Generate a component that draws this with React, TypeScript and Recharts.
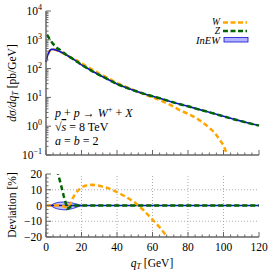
import React from "react";
import { ComposedChart, Line, Area, XAxis, YAxis, ReferenceLine } from "recharts";

// q_T grid [GeV]
const qT = [0, 0.5, 1, 2, 3, 4, 5, 6, 7, 8, 9, 10, 11, 12, 13, 14, 15, 16, 18, 20, 22, 24, 26, 28, 30, 35, 40, 45, 50, 55, 60, 65, 70, 75, 80, 85, 90, 95, 100, 103, 105, 110, 115, 120];

// d sigma / d qT [pb/GeV]
const inew = [170, 235, 300, 410, 465, 470, 455, 430, 405, 385, 360, 335, 310, 285, 262, 240, 220, 200, 165, 135, 115, 97, 82, 70, 60, 42, 29, 22, 17, 13.5, 11, 9, 7.2, 5.9, 4.9, 4.0, 3.3, 2.7, 2.2, 1.95, 1.8, 1.5, 1.25, 1.05];
const wCurve = [170, 235, 300, 410, 465, 470, 455, 430, 405, 384, 359, 333, 307, 281, 261, 245, 230, 213, 181, 151, 129, 110, 93, 79, 67.5, 46.6, 31.5, 23.2, 17.3, 13.1, 10, 7.65, 5.5, 3.7, 2.7, 1.86, 1.12, 0.6, 0.22, 0.07, null, null, null, null];
const zCurve = [null, 1500, 1350, 1080, 870, 720, 610, 533, 482, 443, 398, 355, 316, 279, 258, 239, 220, 200, 165, 135, 115, 97, 82, 70, 60, 42, 29, 22, 17, 13.5, 11, 9, 7.2, 5.9, 4.9, 4.0, 3.3, 2.7, 2.2, 1.95, 1.8, 1.5, 1.25, 1.05];

// deviation [%]
const wDev = [0, 0, 0, 0, 0, 0, 0, 0, 0, -0.2, -0.3, -0.5, -1, -1.5, -0.5, 2, 4.5, 6.5, 9.5, 11.5, 12.5, 13, 13.2, 13, 12.5, 11, 8.5, 5.5, 2, -3, -9, -15, -23, null, null, null, null, null, null, null, null, null, null, null];
const zDev = [null, null, null, null, null, 53, 34, 24, 19, 15, 10.5, 6, 2, -2, -1.5, -0.5, 0, 0, 0, 0, 0, 0, 0, 0, 0, 0, 0, 0, 0, 0, 0, 0, 0, 0, 0, 0, 0, 0, 0, 0, 0, 0, 0, 0];
const bandLo = [null, null, null, null, -0.3, -1, -1.6, -2, -2.3, -2.5, -2.6, -2.7, -2.7, -2.6, -2.4, -2.2, -1.9, -1.6, -0.8, 0, null, null, null, null, null, null, null, null, null, null, null, null, null, null, null, null, null, null, null, null, null, null, null, null];
const bandHi = [null, null, null, null, 0.3, 0.9, 1.4, 1.8, 2, 2.1, 2.2, 2.2, 2.2, 2.1, 2, 1.8, 1.6, 1.3, 0.7, 0, null, null, null, null, null, null, null, null, null, null, null, null, null, null, null, null, null, null, null, null, null, null, null, null];

// ticks
const xMajor = [0, 20, 40, 60, 80, 100, 120];
const xMinor = [4, 8, 12, 16, 24, 28, 32, 36, 44, 48, 52, 56, 64, 68, 72, 76, 84, 88, 92, 96, 104, 108, 112, 116];
const logMajor = [0.1, 1, 10, 100, 1000, 10000];
const logExp = ["−1", "0", "1", "2", "3", "4"];
const logMinorMant = [2, 3, 4, 5, 6, 7, 8, 9];
const devMajor = [-20, -10, 0, 10, 20];
const devMinor = [-17.5, -15, -12.5, -7.5, -5, -2.5, 2.5, 5, 7.5, 12.5, 15, 17.5];
const devGrid = [-10, 10];
const xGrid = [20, 40, 60, 80, 100];

const topData = qT.map((q, i) => ({ q, inew: inew[i], w: wCurve[i], z: zCurve[i] }));
const botData = qT.map((q, i) => ({
  q,
  inew: 0,
  w: wDev[i],
  z: zDev[i],
  band: bandLo[i] == null ? null : [bandLo[i], bandHi[i]],
}));

const logMinor: number[] = [];
logMajor.slice(0, -1).forEach((m) => logMinorMant.forEach((k) => logMinor.push(m * k)));

const FONT = "'Liberation Serif', 'DejaVu Serif', serif";
const AXIS = "#666";
const ORANGE = "#ffa500";
const GREEN = "#006400";
const BLUE = "#1010d0";

const isMajor = (v: number, list: number[]) => list.some((m) => Math.abs(m - v) < 1e-9);

const makeTick = (side: "bottom" | "top" | "left" | "right", majors: number[], labels?: (v: number) => React.ReactNode) =>
  (props: any) => {
    const { x, y, payload } = props;
    const v = payload.value;
    const major = isMajor(v, majors);
    const len = major ? 5 : 2.5;
    let line;
    if (side === "bottom") line = <line x1={x} y1={y} x2={x} y2={y - len} stroke={AXIS} strokeWidth={1} />;
    else if (side === "top") line = <line x1={x} y1={y} x2={x} y2={y + len} stroke={AXIS} strokeWidth={1} />;
    else if (side === "left") line = <line x1={x} y1={y} x2={x + len} y2={y} stroke={AXIS} strokeWidth={1} />;
    else line = <line x1={x} y1={y} x2={x - len} y2={y} stroke={AXIS} strokeWidth={1} />;
    return (
      <g>
        {line}
        {major && labels && side === "bottom" && (
          <text x={x} y={y + 14} textAnchor="middle" fontFamily={FONT} fontSize={11.5} fill="#000">
            {labels(v)}
          </text>
        )}
        {major && labels && side === "left" && (
          <text x={x - 4} y={y + 4} textAnchor="end" fontFamily={FONT} fontSize={11.5} fill="#000">
            {labels(v)}
          </text>
        )}
      </g>
    );
  };

const logLabel = (v: number) => {
  const i = logMajor.findIndex((m) => Math.abs(m - v) / m < 1e-6);
  return (
    <>
      10<tspan dy={-5} fontSize={8}>{logExp[i]}</tspan>
    </>
  );
};
const devLabel = (v: number) => (v < 0 ? "−" + Math.abs(v) : String(v));

const axisLine = { stroke: AXIS, strokeWidth: 1.5 };

export default function App() {
  return (
    <div style={{ position: "absolute", left: 0, top: 0, width: 274, height: 274, background: "#fff" }}>
      <div style={{ position: "absolute", left: 0, top: 0 }}>
        <ComposedChart width={274} height={160} data={topData} margin={{ top: 11, right: 15, left: 0, bottom: 0 }}>
          <XAxis xAxisId="b" dataKey="q" type="number" domain={[0, 120]} ticks={[...xMajor, ...xMinor]} interval={0}
            height={5} tickSize={0} tickMargin={0} axisLine={axisLine} tickLine={false} tick={makeTick("bottom", xMajor)} />
          <XAxis xAxisId="t" orientation="top" dataKey="q" type="number" domain={[0, 120]} ticks={[...xMajor, ...xMinor]} interval={0}
            height={0} tickSize={0} tickMargin={0} axisLine={axisLine} tickLine={false} tick={makeTick("top", xMajor)} />
          <YAxis yAxisId="l" scale="log" type="number" domain={[0.1, 10000]} allowDataOverflow ticks={[...logMajor, ...logMinor]} interval={0}
            width={46} tickSize={0} tickMargin={0} axisLine={axisLine} tickLine={false} tick={makeTick("left", logMajor, logLabel)} />
          <YAxis yAxisId="r" orientation="right" scale="log" type="number" domain={[0.1, 10000]} allowDataOverflow ticks={[...logMajor, ...logMinor]} interval={0}
            width={0} tickSize={0} tickMargin={0} axisLine={axisLine} tickLine={false} tick={makeTick("right", logMajor)} />
          <Line xAxisId="b" yAxisId="l" dataKey="w" stroke={ORANGE} strokeWidth={2.5} strokeDasharray="5 3" dot={false} isAnimationActive={false} />
          <Line xAxisId="b" yAxisId="l" dataKey="inew" stroke={BLUE} strokeWidth={1.6} dot={false} isAnimationActive={false} />
          <Line xAxisId="b" yAxisId="l" dataKey="z" stroke={GREEN} strokeWidth={2.5} strokeDasharray="5 3" dot={false} isAnimationActive={false} />
        </ComposedChart>
      </div>
      <div style={{ position: "absolute", left: 0, top: 160 }}>
        <ComposedChart width={274} height={114} data={botData} margin={{ top: 14, right: 15, left: 0, bottom: 0 }}>
          <XAxis xAxisId="b" dataKey="q" type="number" domain={[0, 120]} ticks={[...xMajor, ...xMinor]} interval={0}
            height={37} tickSize={0} tickMargin={0} axisLine={axisLine} tickLine={false} tick={makeTick("bottom", xMajor, (v) => String(v))} />
          <XAxis xAxisId="t" orientation="top" dataKey="q" type="number" domain={[0, 120]} ticks={[...xMajor, ...xMinor]} interval={0}
            height={0} tickSize={0} tickMargin={0} axisLine={axisLine} tickLine={false} tick={makeTick("top", xMajor)} />
          <YAxis yAxisId="l" type="number" domain={[-20, 20]} allowDataOverflow ticks={[...devMajor, ...devMinor]} interval={0}
            width={46} tickSize={0} tickMargin={0} axisLine={axisLine} tickLine={false} tick={makeTick("left", devMajor, devLabel)} />
          <YAxis yAxisId="r" orientation="right" type="number" domain={[-20, 20]} allowDataOverflow ticks={[...devMajor, ...devMinor]} interval={0}
            width={0} tickSize={0} tickMargin={0} axisLine={axisLine} tickLine={false} tick={makeTick("right", devMajor)} />
          {xGrid.map((g) => (
            <ReferenceLine key={"x" + g} xAxisId="b" yAxisId="l" x={g} stroke="#999" strokeWidth={0.8} strokeDasharray="1 2" />
          ))}
          {devGrid.map((g) => (
            <ReferenceLine key={"y" + g} xAxisId="b" yAxisId="l" y={g} stroke="#999" strokeWidth={0.8} strokeDasharray="1 2" />
          ))}
          <Area xAxisId="b" yAxisId="l" dataKey="band" stroke={BLUE} strokeWidth={0.8} fill="#8080ff" fillOpacity={0.5} isAnimationActive={false} />
          <Line xAxisId="b" yAxisId="l" dataKey="inew" stroke={BLUE} strokeWidth={1.6} dot={false} isAnimationActive={false} />
          <Line xAxisId="b" yAxisId="l" dataKey="w" stroke={ORANGE} strokeWidth={2.5} strokeDasharray="5 3" dot={false} isAnimationActive={false} />
          <Line xAxisId="b" yAxisId="l" dataKey="z" stroke={GREEN} strokeWidth={2.5} strokeDasharray="5 3" dot={false} isAnimationActive={false} />
        </ComposedChart>
      </div>
      <svg width={274} height={274} style={{ position: "absolute", left: 0, top: 0, pointerEvents: "none" }} fontFamily={FONT}>
        <text transform="translate(16,83) rotate(-90)" textAnchor="middle" fontSize={11.5}>
          <tspan fontStyle="italic">dσ/dq</tspan>
          <tspan fontStyle="italic" fontSize={8} dy={2}>T</tspan>
          <tspan dy={-2}>{" [pb/GeV]"}</tspan>
        </text>
        <text transform="translate(16,205) rotate(-90)" textAnchor="middle" fontSize={11.5}>Deviation [%]</text>
        <text x={152} y={267} textAnchor="middle" fontSize={11.5}>
          <tspan fontStyle="italic">q</tspan>
          <tspan fontStyle="italic" fontSize={8} dy={2}>T</tspan>
          <tspan dy={-2}>{" [GeV]"}</tspan>
        </text>
        <text x={55} y={117} fontSize={12}>
          <tspan fontStyle="italic">p</tspan>
          <tspan>{" + "}</tspan>
          <tspan fontStyle="italic">p</tspan>
          <tspan>{" → "}</tspan>
          <tspan fontStyle="italic">W</tspan>
          <tspan fontSize={8.5} dy={-5}>+</tspan>
          <tspan dy={5}>{" + "}</tspan>
          <tspan fontStyle="italic">X</tspan>
        </text>
        <text x={55} y={131} fontSize={12}>
          <tspan>√</tspan>
          <tspan fontStyle="italic" textDecoration="overline">s</tspan>
          <tspan>{" = 8 TeV"}</tspan>
        </text>
        <text x={55} y={145} fontSize={12}>
          <tspan fontStyle="italic">a</tspan>
          <tspan>{" = "}</tspan>
          <tspan fontStyle="italic">b</tspan>
          <tspan>{" = 2"}</tspan>
        </text>
        <text x={220} y={25} textAnchor="end" fontSize={9.5} fontStyle="italic">W</text>
        <text x={220} y={34} textAnchor="end" fontSize={9.5} fontStyle="italic">Z</text>
        <text x={220} y={43.5} textAnchor="end" fontSize={10.5} fontStyle="italic">InEW</text>
        <line x1={223} y1={22.5} x2={247} y2={22.5} stroke={ORANGE} strokeWidth={2.5} strokeDasharray="5 2.5" />
        <line x1={223} y1={31} x2={247} y2={31} stroke={GREEN} strokeWidth={2.5} strokeDasharray="5 2.5" />
        <rect x={224} y={37.5} width={24} height={4.5} fill="#8080ff" fillOpacity={0.6} stroke={BLUE} strokeWidth={0.8} />
      </svg>
    </div>
  );
}
